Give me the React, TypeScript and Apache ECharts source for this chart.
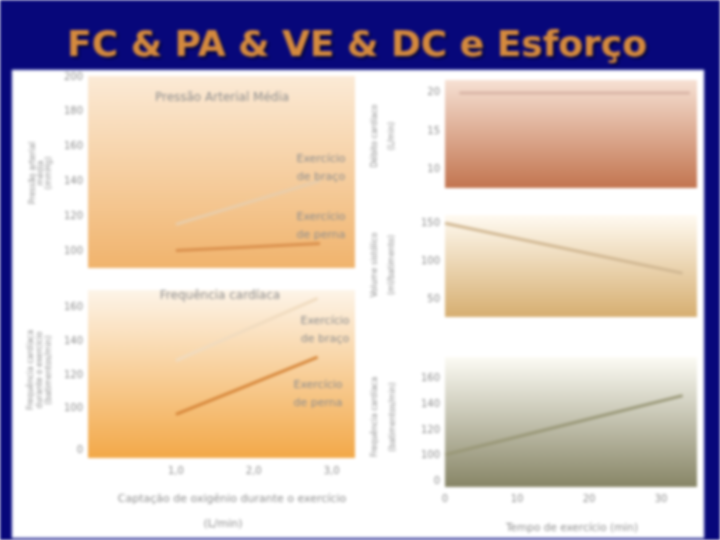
import React, { useEffect, useRef } from "react";
import * as echarts from "echarts";

// ---- data ----
const o2Uptake = [1.0, 2.85];
const mapArm = [115, 140];
const mapLeg = [100, 104];
const hrO2x = [1.0, 2.82];
const hrArm = [128, 165];
const hrLeg = [96, 130];
const coTime = [2, 34];
const cardiacOutput = [19.8, 19.8];
const time = [0, 33];
const strokeVolume = [149, 83];
const heartRate = [100, 146];
const leftXTicks = [1, 2, 3];
const rightXTicks = [0, 10, 20, 30];
const mapTicks = [100, 120, 140, 160, 180, 200];
const hrTicks = [100, 120, 140, 160];
const coTicks = [10, 15, 20];
const svTicks = [50, 100, 150];
const hrTimeTicks = [100, 120, 140, 160];

const GRAY = "#8e8e8e";
const FONT = "DejaVu Sans";

function grad(top: string, bottom: string) {
  return new echarts.graphic.LinearGradient(0, 0, 0, 1, [
    { offset: 0, color: top },
    { offset: 1, color: bottom },
  ]);
}

export default function App() {
  const ref = useRef<HTMLDivElement>(null);
  useEffect(() => {
    document.body.style.margin = "0";
    const chart = echarts.init(ref.current!, null, { renderer: "svg" });

    const grids = [
      { left: 98, top: 76, width: 257, height: 192 },
      { left: 98, top: 290, width: 257, height: 168 },
      { left: 445, top: 80, width: 252, height: 108 },
      { left: 445, top: 215, width: 252, height: 102 },
      { left: 445, top: 357, width: 252, height: 130 },
    ];
    const bgs = [
      { x: 88, y: 76, w: 267, h: 192, c: grad("#fbead6", "#f0b36c") },
      { x: 88, y: 290, w: 267, h: 168, c: grad("#fdf4e8", "#f2a848") },
      { x: 445, y: 80, w: 252, h: 108, c: grad("#f6e0d3", "#c2744f") },
      { x: 445, y: 215, w: 252, h: 102, c: grad("#fffaf1", "#d6ae70") },
      { x: 445, y: 357, w: 252, h: 130, c: grad("#fcfbf4", "#878566") },
    ];

    const lbl = (ticks: number[], map?: Record<number, string>) => ({
      color: GRAY,
      fontSize: 10,
      fontFamily: FONT,
      margin: 5,
      formatter: (v: number) => {
        if (map && map[v] !== undefined) return map[v];
        return ticks.includes(v) ? String(v) : "";
      },
    });

    const yBase = {
      type: "value" as const,
      axisLine: { show: false },
      axisTick: { show: false },
      splitLine: { show: false },
    };
    const xBase = {
      type: "value" as const,
      axisLine: { show: false },
      axisTick: { show: false },
      splitLine: { show: false },
    };

    const xAxis = [
      { ...xBase, gridIndex: 0, min: 0, max: 3.3, interval: 1, axisLabel: { show: false } },
      {
        ...xBase, gridIndex: 1, min: 0, max: 3.3, interval: 1,
        axisLabel: {
          color: GRAY, fontSize: 10, fontFamily: FONT, margin: 7,
          formatter: (v: number) => (leftXTicks.includes(v) ? v.toFixed(1).replace(".", ",") : ""),
        },
      },
      { ...xBase, gridIndex: 2, min: 0, max: 35, interval: 10, axisLabel: { show: false } },
      { ...xBase, gridIndex: 3, min: 0, max: 35, interval: 10, axisLabel: { show: false } },
      {
        ...xBase, gridIndex: 4, min: 0, max: 35, interval: 10,
        axisLabel: {
          color: GRAY, fontSize: 10, fontFamily: FONT, margin: 6,
          formatter: (v: number) => (rightXTicks.includes(v) ? String(v) : ""),
        },
      },
    ];
    const yAxis = [
      { ...yBase, gridIndex: 0, min: 90, max: 200, interval: 10, offset: 10, axisLabel: lbl(mapTicks) },
      { ...yBase, gridIndex: 1, min: 70, max: 170, interval: 5, offset: 10, axisLabel: lbl(hrTicks, { 75: "0" }) },
      { ...yBase, gridIndex: 2, min: 7.5, max: 21.5, interval: 2.5, axisLabel: lbl(coTicks) },
      { ...yBase, gridIndex: 3, min: 25, max: 160, interval: 25, axisLabel: lbl(svTicks) },
      { ...yBase, gridIndex: 4, min: 75, max: 176, interval: 5, axisLabel: lbl(hrTimeTicks, { 80: "0" }) },
    ];

    const line = (xi: number, xs: number[], ys: number[], color: string) => ({
      type: "line" as const,
      xAxisIndex: xi,
      yAxisIndex: xi,
      data: xs.map((x, i) => [x, ys[i]]),
      showSymbol: false,
      symbol: "none",
      lineStyle: { color, width: 3 },
      silent: true,
    });

    const txt = (x: number, y: number, text: string, opts: any = {}) => ({
      type: "text" as const,
      x,
      y,
      rotation: opts.rotation || 0,
      style: {
        text,
        fill: opts.fill || GRAY,
        fontSize: opts.fontSize || 11,
        fontFamily: FONT,
        fontWeight: opts.fontWeight || "normal",
        align: "center",
        verticalAlign: "middle",
        lineHeight: opts.lineHeight || 18,
        textShadowColor: opts.shadow,
        textShadowOffsetX: opts.shadow ? 2 : 0,
        textShadowOffsetY: opts.shadow ? 2 : 0,
        textShadowBlur: opts.shadow ? 2 : 0,
      },
      z: 10,
    });

    const ROT = Math.PI / 2;
    chart.setOption({
      animation: false,
      backgroundColor: "#07077a",
      grid: grids,
      xAxis,
      yAxis,
      series: [
        line(0, o2Uptake, mapArm, "#e8cdab"),
        line(0, o2Uptake, mapLeg, "#d98f4c"),
        line(1, hrO2x, hrArm, "#f0dbbf"),
        line(1, hrO2x, hrLeg, "#d6863a"),
        line(2, coTime, cardiacOutput, "#d9b5a6"),
        line(3, time, strokeVolume, "#d1b893"),
        line(4, time, heartRate, "#9a9878"),
      ],
      graphic: [
        {
          type: "rect",
          shape: { x: 12, y: 70, width: 692, height: 468 },
          style: { fill: "#ffffff", stroke: "#9aa0d8", lineWidth: 1 },
          z: -20,
        },
        ...bgs.map((b) => ({
          type: "rect" as const,
          shape: { x: b.x, y: b.y, width: b.w, height: b.h },
          style: { fill: b.c },
          z: -10,
        })),
        txt(357, 43, "FC & PA & VE & DC e Esforço", {
          fill: "#d4893c", fontSize: 36, fontWeight: "bold", lineHeight: 40, shadow: "#000030",
        }),
        txt(222, 97, "Pressão Arterial Média", { fontSize: 12 }),
        txt(220, 295, "Frequência cardíaca", { fontSize: 12 }),
        txt(321, 167, "Exercício\nde braço", { fontSize: 11 }),
        txt(321, 225, "Exercício\nde perna", { fontSize: 11 }),
        txt(325, 329, "Exercício\nde braço", { fontSize: 11 }),
        txt(318, 393, "Exercício\nde perna", { fontSize: 11 }),
        txt(232, 498, "Captação de oxigênio durante o exercício", { fontSize: 11 }),
        txt(223, 523, "(L/min)", { fontSize: 11 }),
        txt(572, 527, "Tempo de exercício (min)", { fontSize: 10.5 }),
        txt(40, 173, "Pressão arterial\nmédia\n(mmHg)", { rotation: ROT, fontSize: 8, lineHeight: 8 }),
        txt(39, 370, "Frequência cardíaca\ndurante o exercício\n(batimentos/min)", { rotation: ROT, fontSize: 8, lineHeight: 9 }),
        txt(383, 136, "Débito cardíaco\n(L/min)", { rotation: ROT, fontSize: 8, lineHeight: 17 }),
        txt(383, 265, "Volume sistólico\n(ml/batimento)", { rotation: ROT, fontSize: 8, lineHeight: 17 }),
        txt(383, 417, "Frequência cardíaca\n(batimentos/min)", { rotation: ROT, fontSize: 8, lineHeight: 18 }),
      ],
    });
    return () => chart.dispose();
  }, []);

  return (
    <div
      ref={ref}
      style={{
        position: "fixed",
        left: 0,
        top: 0,
        width: 720,
        height: 540,
        filter: "blur(1.5px)",
      }}
    />
  );
}
